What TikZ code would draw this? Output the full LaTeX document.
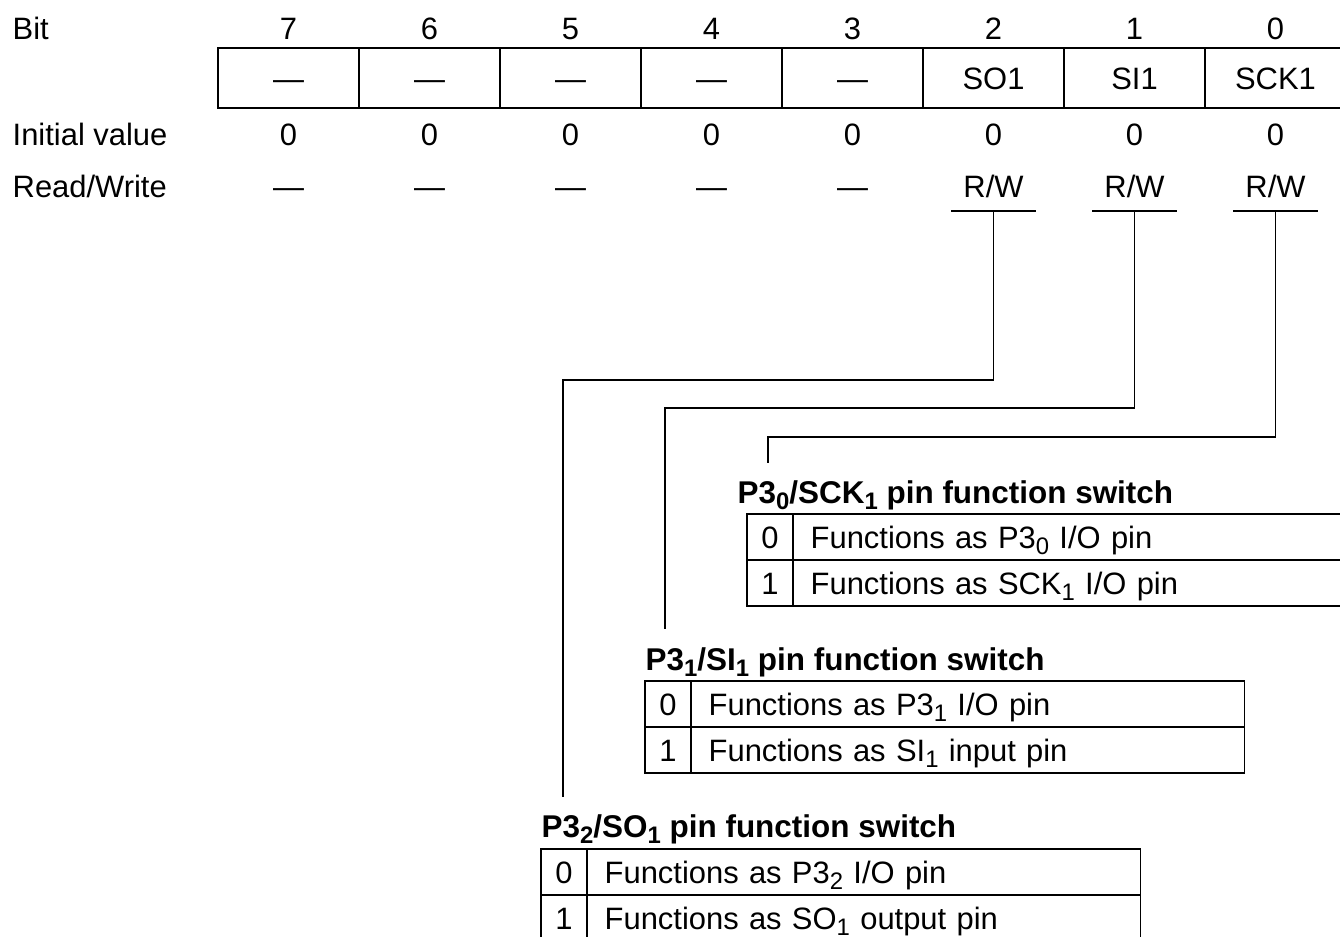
\documentclass[tikz,border=0pt]{standalone}
\usepackage{fontspec}
\setmainfont{Liberation Sans}
\usepackage{tikz}
\usetikzlibrary{positioning,calc}
\newcommand{\pinsub}[1]{\raisebox{-0.22em}{\fontsize{13.6}{14}\selectfont #1}}

\begin{document}
\begin{tikzpicture}[x=0.02cm,y=-0.02cm,line width=0.8pt,
          every node/.style={inner sep=0pt,text height=0.44cm,text depth=0pt,
                             font=\fontsize{17.6}{21}\selectfont},
          regcell/.style={draw,minimum width=2.82cm,minimum height=1.2cm},
          bitbox/.style={draw,minimum width=0.92cm,minimum height=0.92cm},
          descbox/.style={draw,anchor=west,minimum height=0.92cm,
                          inner xsep=0.34cm,align=left},
          heading/.style={anchor=west,font=\fontsize{17.9}{21}\selectfont\bfseries}]
        \useasboundingbox (0,0) rectangle (1340,937);
        % row labels
        \node[anchor=west] (bitlbl)  at (12,28)  {Bit};
        \node[anchor=west] (initlbl) at (12,134) {Initial value};
        \node[anchor=west] (rwlbl)   at (12,186) {Read/Write};
        % register
        \foreach \n/\name/\rw [count=\i from 0] in
            {7/—/—,6/—/—,5/—/—,4/—/—,3/—/—,2/SO1/{R/W},1/SI1/{R/W},0/SCK1/{R/W}}{
          \node (bit\n) at (288.5+141*\i,28) {\n};
          \node[regcell] (reg\n) at (288.5+141*\i,78) {\name};
          \node (init\n) at (288.5+141*\i,134) {0};
          \node (rw\n) at (288.5+141*\i,186) {\rw};
        }
        \foreach \n in {0,1,2}{
          \coordinate (u\n) at (rw\n |- 0,211);
          \draw ($(u\n)+(-42.5,0)$) -- ($(u\n)+(42.5,0)$);
        }
        % bit 0 : P3_0/SCK_1
        \node[heading] (t0) at (737,492) {P3\pinsub{0}/SCK\pinsub{1} pin function switch};
        \node[bitbox] (t0a) at (770,537) {0};
        \node[descbox,text width=10.66cm] (t0b) at (793,537) {Functions as P3\pinsub{0} I/O pin};
        \node[bitbox] (t0c) at (770,583) {1};
        \node[descbox,text width=10.66cm] (t0d) at (793,583) {Functions as SCK\pinsub{1} I/O pin};
        % bit 1 : P3_1/SI_1
        \node[heading] (t1) at (645,659) {P3\pinsub{1}/SI\pinsub{1} pin function switch};
        \node[bitbox] (t1a) at (668,704) {0};
        \node[descbox,text width=10.38cm] (t1b) at (691,704) {Functions as P3\pinsub{1} I/O pin};
        \node[bitbox] (t1c) at (668,750) {1};
        \node[descbox,text width=10.38cm] (t1d) at (691,750) {Functions as SI\pinsub{1} input pin};
        % bit 2 : P3_2/SO_1
        \node[heading] (t2) at (541,826) {P3\pinsub{2}/SO\pinsub{1} pin function switch};
        \node[bitbox] (t2a) at (564,872) {0};
        \node[descbox,text width=10.38cm] (t2b) at (587,872) {Functions as P3\pinsub{2} I/O pin};
        \node[bitbox] (t2c) at (564,918) {1};
        \node[descbox,text width=10.38cm] (t2d) at (587,918) {Functions as SO\pinsub{1} output pin};
        % leader lines
        \coordinate (k2) at (563,380);  \coordinate (e2) at (563,797);
        \coordinate (k1) at (665,408);  \coordinate (e1) at (665,629);
        \coordinate (k0) at (768,437);  \coordinate (e0) at (768,463);
        \draw (u2) |- (k2) -- (e2);
        \draw (u1) |- (k1) -- (e1);
        \draw (u0) |- (k0) -- (e0);
      \end{tikzpicture}
\end{document}
